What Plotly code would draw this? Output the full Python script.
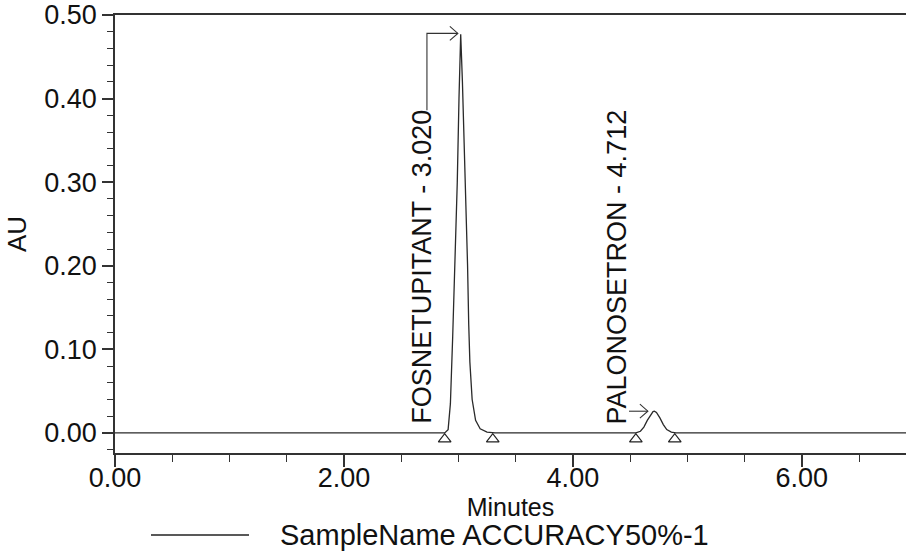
import plotly.graph_objects as go

# ---- data ----
time_min = [0.00, 2.88, 2.91, 2.93, 2.95, 2.97, 2.99, 3.005, 3.02, 3.035, 3.05, 3.065,
            3.08, 3.09, 3.10, 3.12, 3.15, 3.19, 3.25, 3.32,
            4.55, 4.59, 4.62, 4.65, 4.68, 4.70, 4.712, 4.73, 4.76, 4.79, 4.82, 4.86, 4.90, 6.91]
au = [0.000, 0.000, 0.004, 0.035, 0.115, 0.200, 0.300, 0.400, 0.477, 0.420, 0.350, 0.280,
      0.200, 0.130, 0.085, 0.040, 0.015, 0.005, 0.001, 0.000,
      0.000, 0.002, 0.007, 0.015, 0.022, 0.0255, 0.026, 0.0245, 0.018, 0.010, 0.004, 0.001, 0.000, 0.000]

peak_names = ["FOSNETUPITANT", "PALONOSETRON"]
peak_rt = [3.020, 4.712]
peak_height = [0.478, 0.026]
peak_start = [2.88, 4.55]
peak_end = [3.30, 4.89]

x_ticks = [0, 2, 4, 6]
y_ticks = [0.0, 0.1, 0.2, 0.3, 0.4, 0.5]
sample_name = "SampleName ACCURACY50%-1"

# ---- layout constants ----
W, H = 906, 554
L, R, T, B = 115, 0, 15, 101
FONT = "Liberation Sans, Arial, sans-serif"
AXC = "#333333"

label_x = [2.68, 4.384]       # label centre (minutes)
label_y = [0.1985, 0.199]     # label centre (AU)
leader_x = [2.725, 4.49]      # start of leader line
leader_drop = [0.386, None]   # bottom of vertical leader segment
tip_gap = [0.025, 0.057]      # gap between arrow tip and apex (minutes)
marker_offset = -0.0075

def px2paper_x(px):
    return (px - L) / (W - L - R)

def px2paper_y(py):
    return (H - B - py) / (H - T - B)

fig = go.Figure()

fig.add_trace(go.Scatter(
    x=time_min, y=au, mode="lines",
    line=dict(color="#2a2a2a", width=1.3),
    name=sample_name, showlegend=False, hoverinfo="skip"))

# integration markers (open triangles below baseline)
fig.add_trace(go.Scatter(
    x=peak_start + peak_end, y=[marker_offset] * (len(peak_start) + len(peak_end)),
    mode="markers",
    marker=dict(symbol="triangle-up-open", size=11, color="#222", line=dict(width=1.2)),
    showlegend=False, hoverinfo="skip"))

shapes = []
annotations = []
for i, name in enumerate(peak_names):
    h = peak_height[i]
    tip = peak_rt[i] - tip_gap[i]
    xs, ys = [], []
    if leader_drop[i] is not None:
        xs += [leader_x[i]]
        ys += [leader_drop[i]]
    xs += [leader_x[i], tip]
    ys += [h, h]
    fig.add_trace(go.Scatter(x=xs, y=ys, mode="lines",
                             line=dict(color="#333", width=1.1),
                             showlegend=False, hoverinfo="skip"))
    shapes.append(dict(type="path", xref="x", yref="y",
                       xsizemode="pixel", ysizemode="pixel",
                       xanchor=tip, yanchor=h,
                       path="M -8,7 L 0,0 L -8,-7",
                       line=dict(color="#333", width=1.1)))
    annotations.append(dict(
        x=label_x[i], y=label_y[i], xref="x", yref="y",
        text=f"{name} - {peak_rt[i]:.3f}", textangle=-90,
        showarrow=False, xanchor="center", yanchor="middle",
        font=dict(family=FONT, size=27, color="#111")))

# custom legend
leg_y = px2paper_y(535)
shapes.append(dict(type="line", xref="paper", yref="paper",
                   x0=px2paper_x(151), x1=px2paper_x(249), y0=leg_y, y1=leg_y,
                   line=dict(color="#222", width=1.3)))
annotations.append(dict(x=px2paper_x(279), y=leg_y, xref="paper", yref="paper",
                        text=sample_name, showarrow=False,
                        xanchor="left", yanchor="middle", borderpad=0,
                        font=dict(family=FONT, size=29, color="#111")))

fig.update_layout(
    width=W, height=H,
    margin=dict(l=L, r=R, t=T, b=B, pad=0),
    paper_bgcolor="white", plot_bgcolor="white",
    font=dict(family=FONT, color="#111"),
    shapes=shapes, annotations=annotations,
    showlegend=False,
)

fig.update_xaxes(
    range=[0, 6.91], tickvals=x_ticks, ticktext=[f"{v:.2f}" for v in x_ticks],
    ticks="outside", ticklen=12, tickwidth=1.5, tickcolor=AXC,
    showline=True, linecolor=AXC, linewidth=1.6, mirror=True,
    showgrid=False, zeroline=False, ticklabelstandoff=-12,
    tickfont=dict(family=FONT, size=27, color="#111"),
    minor=dict(dtick=0.5, tick0=0, ticks="outside", ticklen=7, tickwidth=1.4, tickcolor=AXC),
    title=dict(text="Minutes", font=dict(family=FONT, size=25, color="#111"), standoff=0),
)
fig.update_yaxes(
    range=[-0.024, 0.50], tickvals=y_ticks, ticktext=[f"{v:.2f}" for v in y_ticks],
    ticks="outside", ticklen=11, tickwidth=1.5, tickcolor=AXC,
    showline=True, linecolor=AXC, linewidth=1.6, mirror=False,
    showgrid=False, zeroline=False,
    tickfont=dict(family=FONT, size=27, color="#111"),
    minor=dict(dtick=0.02, tick0=0, ticks="outside", ticklen=6, tickwidth=1.4, tickcolor=AXC),
    title=dict(text="AU", font=dict(family=FONT, size=26, color="#111"), standoff=10),
)

fig.write_html("out.html")
